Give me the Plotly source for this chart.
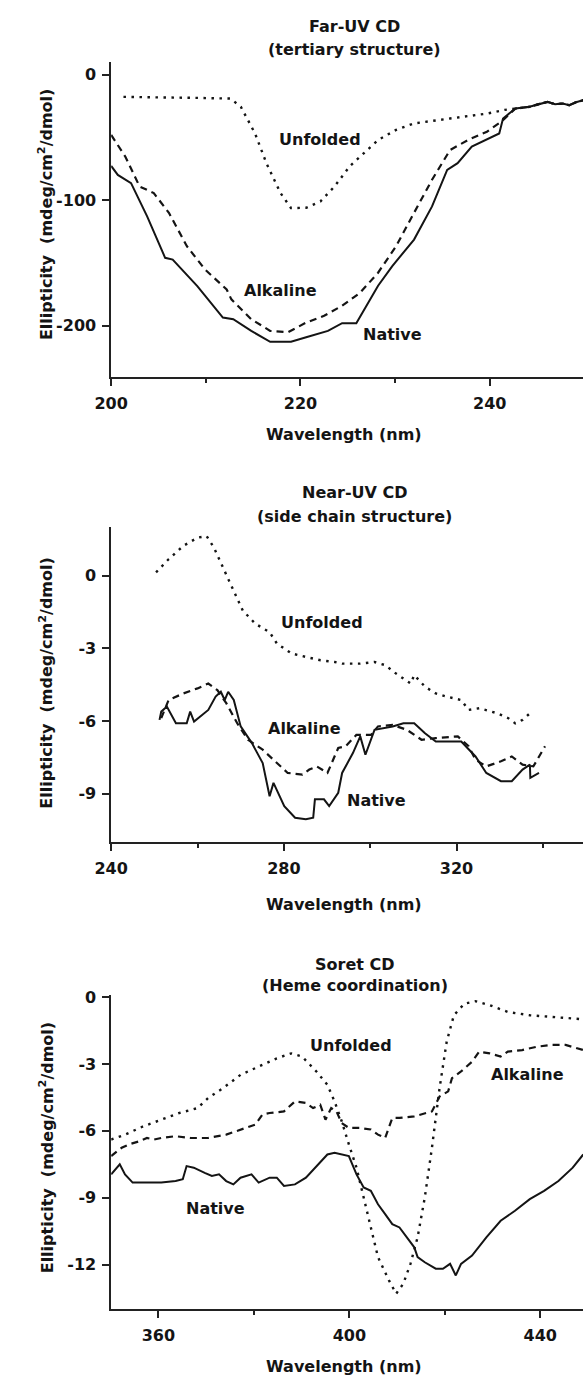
import plotly.graph_objects as go

# ---------------- data ----------------
# Panel 1: Far-UV CD
far_unf_x = [201.3, 203, 205, 207, 209, 211, 212.6, 213.7, 215.2, 216.4, 217.9, 219.0, 220.6, 222.1,
             223.6, 225.2, 226.7, 228.2, 230.1, 232.0, 235.8, 239.7, 241.6, 242.7,
             244.2, 245.4, 246.1, 246.9, 247.7, 248.4, 249.2, 249.9]
far_unf_y = [-17.7, -18, -18, -18.3, -18.5, -18.8, -19, -25.6, -46.8, -70.5, -94.3, -106.2, -106, -101,
             -89, -73, -62.6, -52, -44, -38.8, -34.9, -31, -28, -27,
             -25.6, -23, -21.7, -23.5, -23, -24.3, -21.7, -20.3]

far_nat_x = [200, 200.7, 202.1, 203.8, 205.7, 206.5, 209.1, 211.8, 212.9, 214.8, 216.8, 219.0, 220.6,
             222.9, 224.4, 225.9, 228.2, 229.7, 232.0, 233.9, 235.5, 236.6, 238.1, 240.4, 241.0, 241.4,
             242.7, 244.2, 245.4, 246.1, 246.9, 247.7, 248.4, 249.2, 249.9]
far_nat_y = [-72.7, -79.8, -86.4, -112.8, -145.8, -147.2, -168.3, -193.4, -194.7, -204, -212.7, -212.7, -209,
             -204, -197.9, -197.9, -168, -152.4, -131.3, -104.9, -75.8, -70.5, -57.3, -49.4, -46.8, -34.9,
             -27, -25.6, -23, -21.7, -23.5, -23, -24.3, -21.7, -20.3]

far_alk_x = [200, 201.5, 203, 204.5, 206.1, 208, 209.9, 212.2, 212.7, 214.8, 216.8, 218.7, 220.6, 222.5,
             224.4, 226.3, 228.2, 230.1, 232.0, 233.9, 235.8, 237.7, 239.7, 241.2,
             242.7, 244.2, 245.4, 246.1, 246.9, 247.7, 248.4, 249.2, 249.9]
far_alk_y = [-48, -65.3, -89, -94.3, -110, -136.6, -155, -171, -178.9, -194.7, -204, -205, -197.4, -192,
             -184, -173.6, -157.7, -136.6, -110, -83.7, -60, -52, -45.4, -37.5,
             -27, -25.6, -23, -21.7, -23.5, -23, -24.3, -21.7, -20.3]

# Panel 2: Near-UV CD
near_unf_x = [250.4, 253.3, 256.7, 260, 262.1, 263.8, 265.9, 268.4, 270.5, 273.4, 276.7, 278.4, 281.8,
              285.1, 288.5, 291.8, 293.5, 297.7, 301, 303.5, 306, 309.4, 310.2, 312.7, 315.2, 317.7,
              321.1, 322.8, 325.3, 329.5, 332, 333.6, 335.3, 337]
near_unf_y = [0.14, 0.68, 1.23, 1.57, 1.64, 1.16, 0.34, -0.62, -1.44, -1.98, -2.33, -2.8, -3.21,
              -3.35, -3.49, -3.56, -3.63, -3.63, -3.56, -3.69, -4.04, -4.45, -4.1, -4.58, -4.86, -4.99,
              -5.13, -5.54, -5.47, -5.68, -5.88, -6.09, -5.95, -5.68]

near_alk_x = [251.6, 253.3, 256.7, 260, 262.5, 264.6, 266.7, 269.2, 271.7, 275.1, 278.4, 280.9, 284.3,
              285.9, 287.6, 290.1, 292.6, 294.3, 296.8, 300.2, 301.8, 305.2, 308.5, 311.9, 315.2, 320.3,
              322.8, 324.4, 326.9, 330.3, 332.8, 335.3, 337.8, 339.5, 340.5]
near_alk_y = [-5.88, -5.13, -4.86, -4.65, -4.45, -4.72, -5.27, -6.09, -6.77, -7.18, -7.73, -8.14, -8.21,
              -8.0, -7.87, -8.14, -7.11, -7.04, -6.57, -6.57, -6.22, -6.16, -6.36, -6.77, -6.7, -6.63,
              -7.04, -7.59, -7.87, -7.66, -7.46, -7.8, -7.87, -7.32, -7.04]

near_nat_x = [251.2, 251.6, 252.9, 255, 257.5, 258.3, 259.2, 262.5, 264.2, 265.4, 266.3, 267.1, 268.4,
              270, 272.6, 275.1, 276.7, 277.6, 280.1, 282.6, 285.1, 286.8, 287.2, 289.3, 290.5, 292.6,
              293.5, 296, 297.7, 298.9, 301, 305.2, 307.7, 310.2, 312.7, 315.2, 321.1, 324.4, 326.9,
              330.3, 332.8, 335.3, 337, 337.1, 339.1]
near_nat_y = [-5.95, -5.61, -5.4, -6.09, -6.09, -5.61, -6.02, -5.54, -4.99, -4.79, -5.13, -4.79, -5.13,
              -6.22, -6.91, -7.73, -9.1, -8.55, -9.51, -9.99, -10.05, -9.99, -9.23, -9.23, -9.51, -8.96,
              -8.14, -7.32, -6.63, -7.39, -6.36, -6.22, -6.09, -6.09, -6.5, -6.84, -6.84, -7.46, -8.14,
              -8.48, -8.48, -8.0, -7.8, -8.34, -8.14]

# Panel 3: Soret CD
sor_unf_x = [350.1, 353, 356.8, 360.6, 364.4, 368.2, 370.4, 373.5, 377.2, 381, 384.8, 387.8, 390.1,
             393.1, 395.4, 396.9, 398.4, 399.9, 401.5, 403, 404.5, 406, 408.3, 409.8, 411.3, 412.8,
             414.3, 415.8, 417.3, 418.9, 420.4, 421.9, 424.1, 426.4, 429.4, 433.2, 437.8, 442.3,
             446.8, 449]
sor_unf_y = [-6.39, -6.17, -5.8, -5.5, -5.2, -4.98, -4.53, -4.09, -3.49, -3.12, -2.75, -2.53, -2.67,
             -3.34, -3.94, -4.68, -5.57, -6.61, -7.65, -8.99, -10.33, -11.66, -12.7, -13.3, -12.85, -11.96,
             -10.77, -8.99, -6.76, -4.09, -2.0, -0.82, -0.3, -0.19, -0.37, -0.67, -0.82, -0.89,
             -0.97, -1.0]

sor_alk_x = [350.1, 352.3, 353.8, 356.1, 357.6, 359.1, 360.6, 363.6, 366.7, 370.4, 374.2, 378, 380.3,
             381.8, 383.3, 386.3, 388.6, 390.9, 392.4, 393.9, 395, 396.2, 397.3, 398.4, 399.9, 402.2,
             404.5, 406, 407.5, 409, 410.5, 413.6, 417.3, 418.9, 420.7, 421.5, 423.4, 425.7, 427.2,
             429.4, 431.7, 433.2, 436.2, 439.3, 442.3, 445.3, 449]
sor_alk_y = [-7.13, -6.76, -6.61, -6.46, -6.32, -6.39, -6.32, -6.24, -6.32, -6.32, -6.17, -5.87, -5.72,
             -5.27, -5.2, -5.13, -4.68, -4.75, -4.98, -4.83, -5.5, -4.98, -5.13, -5.65, -5.87, -5.87,
             -5.94, -6.17, -6.32, -5.42, -5.42, -5.35, -5.13, -4.46, -4.23, -3.64, -3.34, -2.9, -2.45,
             -2.53, -2.67, -2.45, -2.38, -2.23, -2.15, -2.15, -2.38]

sor_nat_x = [350.1, 351.9, 353, 354.6, 357.6, 360.6, 363.6, 365.1, 365.9, 367.4, 369.7, 371.2, 372.7,
             374.2, 375.7, 377.2, 379.5, 381, 383.3, 384.8, 386.3, 388.6, 390.9, 393.1, 395.4, 396.9,
             398.4, 399.9, 401.5, 403, 404.5, 406, 407.5, 409, 410.5, 412, 413.6, 414.3, 415.8, 418.1,
             419.6, 421.1, 422.3, 423.4, 425.7, 428.7, 431.7, 434.7, 437.8, 440.8, 443.8, 446.8, 449]
sor_nat_y = [-7.95, -7.5, -7.95, -8.32, -8.32, -8.32, -8.25, -8.17, -7.58, -7.65, -7.88, -8.02, -7.95,
             -8.25, -8.4, -8.1, -7.95, -8.32, -8.1, -8.1, -8.47, -8.4, -8.1, -7.58, -7.06, -6.98,
             -7.06, -7.13, -7.95, -8.54, -8.69, -9.29, -9.73, -10.18, -10.33, -10.77, -11.22, -11.66,
             -11.89, -12.18, -12.18, -11.96, -12.48, -11.96, -11.59, -10.77, -10.03, -9.58, -9.06,
             -8.69, -8.25, -7.65, -7.06]

# tick values / labels
far_yticks = [0, -100, -200]
far_ytext = ["0", "-100", "-200"]
near_yticks = [0, -3, -6, -9]
near_ytext = ["0", "-3", "-6", "-9"]
sor_yticks = [0, -3, -6, -9, -12]
sor_ytext = ["0", "-3", "-6", "-9", "-12"]

titles = [("Far-UV CD", "(tertiary structure)"),
          ("Near-UV CD", "(side chain structure)"),
          ("Soret CD", "(Heme coordination)")]
curve_names = ["Unfolded", "Alkaline", "Native"]

# ---------------- figure ----------------
W, H = 583, 1378
FONT = "DejaVu Sans"
INK = "#141414"


def fx(p):
    return p / W


def fy(p):
    return 1 - p / H


fig = go.Figure()

DOT = "2.5px,5.5px"
DASH = "7px,5px"
panels = [
    ("x", "y", far_unf_x, far_unf_y, far_alk_x, far_alk_y, far_nat_x, far_nat_y),
    ("x2", "y2", near_unf_x, near_unf_y, near_alk_x, near_alk_y, near_nat_x, near_nat_y),
    ("x3", "y3", sor_unf_x, sor_unf_y, sor_alk_x, sor_alk_y, sor_nat_x, sor_nat_y),
]
for xa, ya, ux, uy, ax_, ay_, nx, ny in panels:
    fig.add_trace(go.Scatter(x=ux, y=uy, mode="lines", xaxis=xa, yaxis=ya, name="Unfolded",
                             line=dict(color=INK, width=2.4, dash=DOT), showlegend=False))
    fig.add_trace(go.Scatter(x=ax_, y=ay_, mode="lines", xaxis=xa, yaxis=ya, name="Alkaline",
                             line=dict(color=INK, width=2.2, dash=DASH), showlegend=False))
    fig.add_trace(go.Scatter(x=nx, y=ny, mode="lines", xaxis=xa, yaxis=ya, name="Native",
                             line=dict(color=INK, width=2.0), showlegend=False))

tickfont = dict(family=FONT, size=16, color=INK, weight="bold")
common = dict(showline=True, linecolor="#222", linewidth=1.6, ticks="outside", ticklen=7,
              tickwidth=1.5, tickcolor="#222", showgrid=False, zeroline=False, tickfont=tickfont,
              fixedrange=True)


def xaxis(rng, tick0, dtick, mdtick, anchor):
    return dict(common, range=rng, tick0=tick0, dtick=dtick, anchor=anchor,
                domain=[fx(97), 1.0], ticklabelstandoff=4,
                minor=dict(tick0=tick0, dtick=mdtick, ticks="outside", ticklen=4, tickwidth=1.5,
                           tickcolor="#222", showgrid=False))


def yaxis(rng, vals, text, top, bottom, anchor):
    return dict(common, range=rng, tickvals=vals, ticktext=text, anchor=anchor,
                domain=[fy(bottom), fy(top)], ticklabelstandoff=3)


fig.update_layout(
    width=W, height=H,
    margin=dict(l=0, r=0, t=0, b=0),
    paper_bgcolor="white", plot_bgcolor="white",
    xaxis=xaxis([200, 249.85], 200, 20, 10, "y"),
    yaxis=yaxis([-240.8, 10.3], far_yticks, far_ytext, 55, 372, "x"),
    xaxis2=xaxis([240, 349.3], 240, 40, 20, "y2"),
    yaxis2=yaxis([-10.98, 2.01], near_yticks, near_ytext, 522.7, 839, "x2"),
    xaxis3=xaxis([350.1, 448.95], 360, 40, 20, "y3"),
    yaxis3=yaxis([-14.0, 0.09], sor_yticks, sor_ytext, 993, 1309, "x3"),
)

ann = []


def add_text(text, x, y, size=16, weight="bold", angle=0):
    ann.append(dict(text=text, x=fx(x), y=fy(y), xref="paper", yref="paper", showarrow=False,
                    xanchor="center", yanchor="middle", textangle=angle, borderpad=0,
                    font=dict(family=FONT, size=size, color=INK, weight=weight)))


# titles
title_pos = [(20, 43), (488, 512), (962, 983)]
for (t1, t2), (y1, y2) in zip(titles, title_pos):
    add_text(t1, 348, y1, size=16)
    add_text(t2, 348, y2, size=16)

# axis titles
for yx in [430, 902, 1366]:
    add_text("Wavelength (nm)", 337, yx)
for yy in [209, 680, 1147]:
    add_text("Ellipticity\u00a0 (mdeg/cm<sup>2</sup>/dmol)", 30, yy, angle=-90)

# curve labels
label_pos = [
    [(312, 133), (271, 285), (387, 329)],
    [(314, 619), (296, 725), (370, 798)],
    [(344, 1044), (526, 1073), (204, 1208)],
]
for row in label_pos:
    for name, (lx, ly) in zip(curve_names, row):
        add_text(name, lx, ly)

fig.update_layout(annotations=ann)
# remove the default page margin so the figure fills the window exactly; no modebar
fig.write_html("out.html",
               config={"displayModeBar": False, "staticPlot": False},
               post_script="document.body.style.margin='0';document.body.style.overflow='hidden';")
